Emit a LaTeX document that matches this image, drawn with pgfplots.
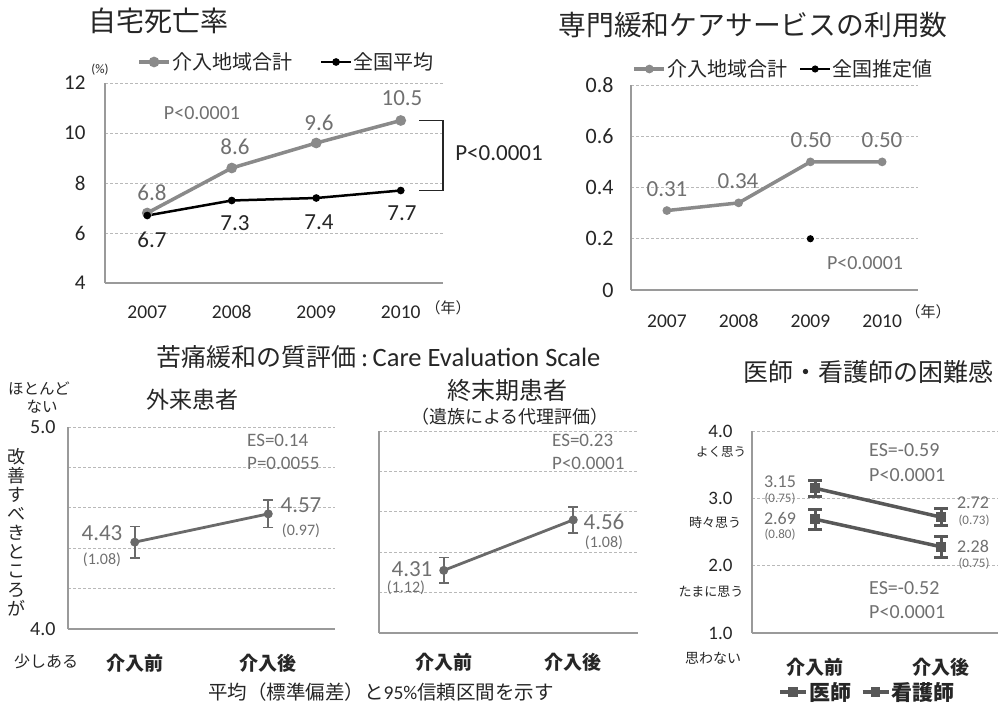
\documentclass[border=0pt]{standalone}
\usepackage{fontspec}
\usepackage{pgfplots}
\pgfplotsset{compat=1.18}
\setmainfont{Carlito}
\newfontfamily\jp{Noto Sans CJK JP}
\newcommand\fs[1]{\fontsize{#1}{#1}\selectfont}
\definecolor{gline}{HTML}{8A8A8A}
\definecolor{gtext}{HTML}{707070}
\definecolor{dline}{HTML}{6A6A6A}
\definecolor{dkline}{HTML}{585858}
\definecolor{axgray}{HTML}{9A9A9A}
\definecolor{txt}{HTML}{262626}
\pgfplotsset{
  panel/.style={
    scale only axis, clip=false,
    axis x line=bottom, axis y line=left,
    axis line style={-, axgray, line width=1.3pt},
    major tick length=0pt,
    ymajorgrids, grid style={densely dashed, gray!55, line width=0.7pt},
    tick label style={text=txt},
    legend style={draw=none, fill=none, text=txt, inner sep=0pt, nodes={inner xsep=1.5pt, inner ysep=1pt},
      /tikz/every odd column/.append style={column sep=0pt}},
    legend cell align=left,
  },
}
\begin{document}
\begin{tikzpicture}
\path[use as bounding box] (0pt,0pt) rectangle (1000pt,-706pt);

% ---------- Panel 1 ----------
\begin{axis}[panel, at={(105pt,-283pt)}, anchor=south west, width=338pt, height=200pt,
  xmin=2006.5, xmax=2010.5, ymin=4, ymax=12,
  xtick={2007,2008,2009,2010}, xticklabels={2007,2008,2009,2010},
  ytick={4,6,8,10,12}, yticklabels={4,6,8,10,12},
  xticklabel style={font=\fs{19.5}, yshift=-19pt},
  yticklabel style={font=\fs{21}, xshift=-16pt},
  legend columns=2,
  legend style={at={(0.095,1.105)}, anchor=west, font=\jp\fs{20}, /tikz/every even column/.append style={column sep=26pt}},
  legend image code/.code={\draw[mark repeat=2,mark phase=2,#1] plot coordinates {(0pt,0pt) (15pt,0pt) (30pt,0pt)};},
]
\addplot[gline, line width=3.5pt, mark=*, mark size=3.5pt] coordinates {(2007,6.8)(2008,8.6)(2009,9.6)(2010,10.5)};
\addlegendentry{介入地域合計}
\addplot[black, line width=2.5pt, mark=*, mark size=2.5pt] coordinates {(2007,6.7)(2008,7.3)(2009,7.4)(2010,7.7)};
\addlegendentry{全国平均}
\draw[txt, line width=1.8pt] (axis cs:2010.22,10.5) -- (axis cs:2010.5,10.5) -- (axis cs:2010.5,7.7) -- (axis cs:2010.22,7.7);
\end{axis}

% ---------- Panel 2 ----------
\begin{axis}[panel, at={(631pt,-290pt)}, anchor=south west, width=287pt, height=205pt,
  xmin=2006.5, xmax=2010.5, ymin=0, ymax=0.8,
  xtick={2007,2008,2009,2010}, xticklabels={2007,2008,2009,2010},
  ytick={0,0.2,0.4,0.6,0.8}, yticklabels={0,0.2,0.4,0.6,0.8},
  xticklabel style={font=\fs{19.5}, yshift=-21pt},
  yticklabel style={font=\fs{22}, xshift=-14pt},
  legend columns=2,
  legend style={at={(0.005,1.078)}, anchor=west, font=\jp\fs{20}, /tikz/every even column/.append style={column sep=10pt}},
  legend image code/.code={\draw[mark repeat=2,mark phase=2,#1] plot coordinates {(0pt,0pt) (15pt,0pt) (30pt,0pt)};},
]
\addplot[gline, line width=3.5pt, mark=*, mark size=2.5pt] coordinates {(2007,0.31)(2008,0.34)(2009,0.50)(2010,0.50)};
\addlegendentry{介入地域合計}
\addplot[black, line width=2pt, mark=*, mark size=2.5pt] coordinates {(2009,0.2)};
\addlegendentry{全国推定値}
\end{axis}

% ---------- Panel 3 ----------
\begin{axis}[panel, at={(68pt,-629pt)}, anchor=south west, width=267pt, height=202pt,
  xmin=-0.5, xmax=1.5, ymin=4, ymax=5,
  xtick={0,1}, xticklabels={介入前,介入後},
  ytick={4,4.2,4.4,4.6,4.8,5}, yticklabels={4.0,,,,,5.0},
  xticklabel style={font=\jp\bfseries\fs{19}, yshift=-22pt},
  yticklabel style={font=\fs{20}, xshift=-9pt},
]
\addplot[dline, line width=2.8pt, mark=*, mark size=3pt,
  error bars/.cd, y dir=both, y explicit,
  error bar style={line width=1.8pt, dline},
  error mark options={rotate=90, mark size=5pt, line width=1.8pt, dline}]
  coordinates {(0,4.43) +- (0,0.077) (1,4.57) +- (0,0.067)};
\end{axis}

% ---------- Panel 4 ----------
\begin{axis}[panel, at={(379pt,-633pt)}, anchor=south west, width=259pt, height=202pt,
  xmin=-0.5, xmax=1.5, ymin=4, ymax=5,
  xtick={0,1}, xticklabels={介入前,介入後},
  ytick={4,4.2,4.4,4.6,4.8,5}, yticklabels={,,,,,},
  xticklabel style={font=\jp\bfseries\fs{19}, yshift=-17pt},
]
\addplot[dline, line width=2.8pt, mark=*, mark size=3pt,
  error bars/.cd, y dir=both, y explicit,
  error bar style={line width=1.8pt, dline},
  error mark options={rotate=90, mark size=5pt, line width=1.8pt, dline}]
  coordinates {(0,4.31) +- (0,0.064) (1,4.56) +- (0,0.064)};
\end{axis}

% ---------- Panel 5 ----------
\begin{axis}[panel, at={(752pt,-633pt)}, anchor=south west, width=246pt, height=202pt,
  xmin=-0.5, xmax=1.45, ymin=1, ymax=4,
  xtick={0,1}, xticklabels={介入前,介入後},
  ytick={1,2,3,4}, yticklabels={1.0,2.0,3.0,4.0},
  xticklabel style={font=\jp\bfseries\fs{19}, yshift=-22pt},
  yticklabel style={font=\fs{19}, xshift=-16pt},
  legend columns=2,
  legend style={at={(0.106,-0.292)}, anchor=west, font=\jp\bfseries\fs{21}, /tikz/every even column/.append style={column sep=8pt}},
  legend image code/.code={\draw[mark repeat=2,mark phase=2,#1] plot coordinates {(0pt,0pt) (13pt,0pt) (26pt,0pt)};},
]
\addplot[dkline, line width=3.5pt, mark=square*, mark size=3pt,
  error bars/.cd, y dir=both, y explicit,
  error bar style={line width=3pt, dkline},
  error mark options={rotate=90, mark size=7pt, line width=3pt, dkline}]
  coordinates {(0,3.15) +- (0,0.12) (1,2.72) +- (0,0.13)};
\addlegendentry{医師}
\addplot[dkline, line width=3.5pt, mark=square*, mark size=3pt,
  error bars/.cd, y dir=both, y explicit,
  error bar style={line width=3pt, dkline},
  error mark options={rotate=90, mark size=7pt, line width=3pt, dkline}]
  coordinates {(0,2.69) +- (0,0.15) (1,2.28) +- (0,0.16)};
\addlegendentry{看護師}
\end{axis}

% ---------- Free text ----------
\begin{scope}[x=1pt,y=-1pt, every node/.style={inner sep=0pt, text=txt}]
% panel 1
\node[font=\jp\fs{28}] at (158,21) {自宅死亡率};
\node[font=\fs{13}] at (100,70) {(\%)};
\node[font=\jp\fs{15}] at (448,308) {（年）};
\begin{scope}[every node/.append style={text=gtext, font=\fs{23}}]
\node at (152,193) {6.8};
\node at (235,147) {8.6};
\node at (319,123) {9.6};
\node at (402,98) {10.5};
\node[font=\fs{20}] at (202,113) {P<0.0001};
\end{scope}
\begin{scope}[every node/.append style={font=\fs{23}}]
\node at (152,240) {6.7};
\node at (235,223) {7.3};
\node at (319,222) {7.4};
\node at (402,213) {7.7};
\node at (499,153) {P<0.0001};
\end{scope}
% panel 2
\node[font=\jp\fs{27.8}] at (753,25) {専門緩和ケアサービスの利用数};
\node[font=\jp\fs{15}] at (928,312) {（年）};
\begin{scope}[every node/.append style={text=gtext, font=\fs{23}}]
\node at (667,189) {0.31};
\node at (738,181) {0.34};
\node at (811,140) {0.50};
\node at (882,140) {0.50};
\node[font=\fs{20}] at (865,263) {P<0.0001};
\end{scope}
% panel 3
\node[anchor=west] at (151,357) {{\jp\fs{25} 苦痛緩和の質評価}{\fs{26.5}\,:\,Care Evaluation Scale}};
\node[font=\jp\fs{15.5}] at (39,388) {ほとんど};
\node[font=\jp\fs{15.5}] at (42,407) {ない};
\node[font=\jp\fs{23}] at (192,400) {外来患者};
\node[font=\jp\fontsize{18}{19}\selectfont, align=center] at (17,532) {改\\善\\す\\べ\\き\\と\\こ\\ろ\\が};
\node[font=\jp\fs{16}] at (46,661) {少しある};
\node[font=\jp\fs{19.5}] at (381,692) {平均（標準偏差）と{\rmfamily 95\%}信頼区間を示す};
\begin{scope}[every node/.append style={text=gtext}]
\node[font=\fs{23}] at (102,533) {4.43};
\node[font=\fs{16}] at (102,560) {(1.08)};
\node[font=\fs{23}] at (301,505) {4.57};
\node[font=\fs{16}] at (301,531) {(0.97)};
\node[font=\fs{19}, anchor=west] at (247,440) {ES=0.14};
\node[font=\fs{19}, anchor=west] at (247,463) {P=0.0055};
\end{scope}
% panel 4
\node[font=\jp\fs{24}] at (507,390) {終末期患者};
\node[font=\jp\fs{18}] at (510,417) {（遺族による代理評価）};
\begin{scope}[every node/.append style={text=gtext}]
\node[font=\fs{19}, anchor=west] at (552,440) {ES=0.23};
\node[font=\fs{19}, anchor=west] at (552,463) {P<0.0001};
\node[font=\fs{23}] at (412,569) {4.31};
\node[font=\fs{16}] at (406,588) {(1.12)};
\node[font=\fs{23}] at (604,522) {4.56};
\node[font=\fs{16}] at (604,543) {(1.08)};
\end{scope}
% panel 5
\node[font=\jp\fs{25}] at (868,372) {医師・看護師の困難感};
\node[font=\jp\fs{12.5}] at (721,452) {よく思う};
\node[font=\jp\fs{13}] at (715,523) {時々思う};
\node[font=\jp\fs{13}] at (711,592) {たまに思う};
\node[font=\jp\fs{14}] at (713,658) {思わない};
\begin{scope}[every node/.append style={text=gtext}]
\node[font=\fs{18}] at (780,482) {3.15};
\node[font=\fs{13}] at (780,499) {(0.75)};
\node[font=\fs{18}] at (780,518) {2.69};
\node[font=\fs{13}] at (780,535) {(0.80)};
\node[font=\fs{18}] at (973,503) {2.72};
\node[font=\fs{13}] at (974,521) {(0.73)};
\node[font=\fs{18}] at (973,546) {2.28};
\node[font=\fs{13}] at (974,564) {(0.75)};
\node[font=\fs{20}, anchor=west] at (869,450) {ES=-0.59};
\node[font=\fs{20}, anchor=west] at (869,475) {P<0.0001};
\node[font=\fs{20}, anchor=west] at (869,588) {ES=-0.52};
\node[font=\fs{20}, anchor=west] at (869,612) {P<0.0001};
\end{scope}
\end{scope}
\end{tikzpicture}
\end{document}
